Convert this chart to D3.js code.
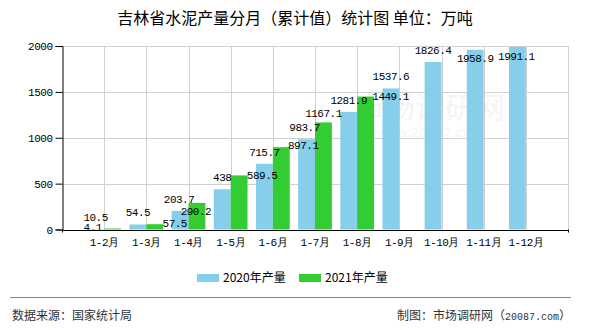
<!DOCTYPE html>
<html>
<head>
<meta charset="utf-8">
<script src="https://cdn.jsdelivr.net/npm/d3@7/dist/d3.min.js"></script>
<style>
  html, body { margin: 0; padding: 0; background: #fff; }
  svg { display: block; }
  .num { font-family: "Liberation Mono", "DejaVu Sans Mono", monospace; font-size: 11px; letter-spacing: -0.5px; fill: #000; }
  .cjk { font-family: "Noto Sans CJK SC", "Noto Sans", sans-serif; }
</style>
</head>
<body>
<svg id="chart" width="590" height="330"></svg>
<script>
// Cumulative cement output in Jilin province, 10k tonnes
const months = ["1-2月", "1-3月", "1-4月", "1-5月", "1-6月", "1-7月", "1-8月", "1-9月", "1-10月", "1-11月", "1-12月"];
const output2020 = [4.1, 54.5, 203.7, 438, 715.7, 983.7, 1281.9, 1537.6, 1826.4, 1958.9, 1991.1];
const output2021 = [10.5, 57.5, 290.2, 589.5, 897.1, 1167.1, 1449.1, null, null, null, null];
const yTicks = [0, 500, 1000, 1500, 2000];
const seriesNames = ["2020年产量", "2021年产量"];

// hand-placed label nudges (dx, dy) so value labels don't collide
const nudge2020 = [[-3, 10], [0, 0], [-1, 0], [0, 0], [0, 0], [-2, 0], [0, 0], [0, 0], [0, 0], [0, 20], [-1, 21]];
const nudge2021 = [[-17, 0], [20, 11], [-1, 20], [23, 12], [22, 10], [0, 3], [25, 11]];

const colors = ["#87CEEB", "#33CC33"];

const svg = d3.select("#chart");
const plotL = 62, plotR = 568, plotT = 46, plotB = 229.5;

const x = d3.scaleLinear().domain([0, months.length + 1]).range([plotL, plotR]);
const y = d3.scaleLinear().domain([0, 2000]).range([plotB, plotT]);
const step = x(1) - x(0);
const barW = step * 0.4;

// title
svg.append("text").attr("class", "cjk")
  .attr("x", 295).attr("y", 24).attr("text-anchor", "middle")
  .attr("font-size", 16).attr("fill", "#000")
  .text("吉林省水泥产量分月（累计值）统计图 单位：万吨");

// grid
const grid = svg.append("g").attr("stroke", "#d0d0d0").attr("stroke-width", 1);
grid.selectAll("line.h").data(yTicks.filter(v => v > 0)).join("line")
  .attr("x1", plotL).attr("x2", plotR)
  .attr("y1", d => Math.round(y(d)) + 0.5).attr("y2", d => Math.round(y(d)) + 0.5);
grid.selectAll("line.v").data(d3.range(1, months.length + 2)).join("line")
  .attr("x1", d => Math.round(x(d)) + 0.5).attr("x2", d => Math.round(x(d)) + 0.5)
  .attr("y1", plotT).attr("y2", plotB);

// faint watermark
svg.append("text").attr("class", "cjk").attr("x", 430).attr("y", 118)
  .attr("text-anchor", "middle").attr("font-size", 30).attr("fill", "#000").attr("opacity", 0.04)
  .text("市场调研网");
svg.append("text").attr("x", 430).attr("y", 137)
  .attr("text-anchor", "middle").attr("font-size", 13).attr("fill", "#000").attr("opacity", 0.04)
  .attr("font-family", "DejaVu Sans").text("www.20087.com");

// bars
const bars = svg.append("g");
bars.selectAll("rect.s0").data(output2020).join("rect")
  .attr("x", (d, i) => x(i + 1) - barW).attr("width", barW)
  .attr("y", d => y(d)).attr("height", d => y(0) - y(d))
  .attr("fill", colors[0]);
bars.selectAll("rect.s1").data(output2021.map((d, i) => ({ d, i })).filter(o => o.d != null)).join("rect")
  .attr("x", o => x(o.i + 1)).attr("width", barW)
  .attr("y", o => y(o.d)).attr("height", o => y(0) - y(o.d))
  .attr("fill", colors[1]);

// axes
const yAxis = svg.append("g").attr("transform", `translate(${plotL + 0.5},0)`)
  .call(d3.axisLeft(y).tickValues(yTicks).tickSize(7).tickPadding(3).tickFormat(d3.format("d")));
yAxis.select(".domain").attr("stroke", "#000");
yAxis.selectAll(".tick line").attr("stroke", "#000");
yAxis.selectAll(".tick text").attr("class", "num").attr("font-family", null).attr("font-size", null);

svg.append("line").attr("x1", plotL).attr("x2", plotR + 1)
  .attr("y1", Math.round(plotB) + 0.5).attr("y2", Math.round(plotB) + 0.5).attr("stroke", "#000");
[plotL + 0.5, plotR + 0.5].forEach(px => {
  svg.append("line").attr("x1", px).attr("x2", px)
    .attr("y1", plotB).attr("y2", plotB + 3).attr("stroke", "#000");
});

svg.append("g").selectAll("text").data(months).join("text")
  .attr("class", "num")
  .attr("x", (d, i) => x(i + 1)).attr("y", 246)
  .attr("text-anchor", "middle")
  .text(d => d);

// value labels
const labels = svg.append("g");
labels.selectAll("text.l0").data(output2020).join("text")
  .attr("class", "num").attr("text-anchor", "middle")
  .attr("x", (d, i) => x(i + 1) - barW / 2 + nudge2020[i][0])
  .attr("y", (d, i) => y(d) - 8 + nudge2020[i][1])
  .text(d => d);
labels.selectAll("text.l1").data(output2021.map((d, i) => ({ d, i })).filter(o => o.d != null)).join("text")
  .attr("class", "num").attr("text-anchor", "middle")
  .attr("x", o => x(o.i + 1) + barW / 2 + nudge2021[o.i][0])
  .attr("y", o => y(o.d) - 8 + nudge2021[o.i][1])
  .text(o => o.d);

// legend
const legend = svg.append("g");
const legendX = [197, 299];
seriesNames.forEach((name, i) => {
  legend.append("rect").attr("x", legendX[i]).attr("y", 274).attr("width", 22).attr("height", 8).attr("fill", colors[i]);
  legend.append("text").attr("class", "cjk").attr("x", legendX[i] + 26).attr("y", 282)
    .attr("font-size", 12).attr("fill", "#000").text(name);
});

// footer
svg.append("line").attr("x1", 10).attr("x2", 571).attr("y1", 297.5).attr("y2", 297.5)
  .attr("stroke", "#888").attr("stroke-width", 1);
svg.append("text").attr("class", "cjk").attr("x", 12).attr("y", 320)
  .attr("font-size", 12).attr("fill", "#333").text("数据来源：国家统计局");
const credit = svg.append("text").attr("class", "cjk").attr("x", 571).attr("y", 320)
  .attr("text-anchor", "end").attr("font-size", 12).attr("fill", "#333");
credit.append("tspan").text("制图：市场调研网（");
credit.append("tspan").attr("font-family", "Liberation Mono, monospace").attr("font-size", 10).text("20087.com");
credit.append("tspan").text("）");
</script>
</body>
</html>
